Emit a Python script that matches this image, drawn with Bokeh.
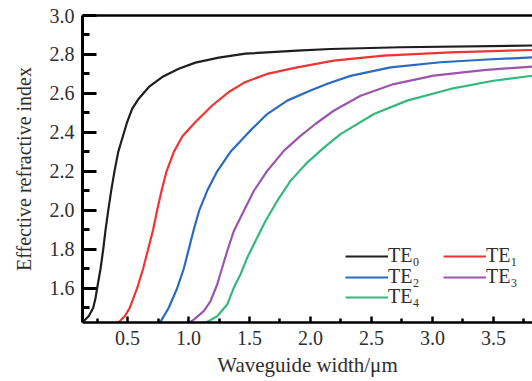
from bokeh.plotting import figure
from bokeh.models import (Range1d, FixedTicker, Legend, LegendItem, LinearAxis,
                          CustomJSTickFormatter)
from bokeh.embed import file_html
from bokeh.resources import INLINE

# Effective index of the TE modes versus waveguide width (µm)
te0_x = [0.13, 0.183, 0.219, 0.238, 0.251, 0.279, 0.301, 0.320, 0.342, 0.366, 0.393, 0.424,
         0.456, 0.497, 0.538, 0.592, 0.675, 0.784, 0.92, 1.057, 1.248, 1.467, 1.891, 2.164,
         2.738, 3.82]
te0_y = [1.424, 1.457, 1.50, 1.55, 1.60, 1.70, 1.80, 1.90, 2.00, 2.10, 2.20, 2.30,
         2.367, 2.453, 2.521, 2.573, 2.633, 2.684, 2.727, 2.758, 2.784, 2.804, 2.82, 2.828,
         2.837, 2.846]

te1_x = [0.41, 0.43, 0.478, 0.519, 0.579, 0.628, 0.669, 0.71, 0.743, 0.779, 0.820, 0.880,
         0.95, 1.057, 1.194, 1.33, 1.467, 1.645, 1.891, 2.19, 2.60, 3.147, 3.82]
te1_y = [1.424, 1.427, 1.457, 1.50, 1.60, 1.70, 1.80, 1.90, 2.00, 2.10, 2.20, 2.30,
         2.38, 2.453, 2.538, 2.607, 2.659, 2.70, 2.734, 2.768, 2.794, 2.811, 2.823]

te2_x = [0.74, 0.77, 0.838, 0.907, 0.961, 1.002, 1.043, 1.088, 1.153, 1.235, 1.344, 1.50,
         1.645, 1.809, 2.0, 2.15, 2.328, 2.656, 3.066, 3.448, 3.82]
te2_y = [1.424, 1.427, 1.50, 1.60, 1.70, 1.80, 1.90, 2.00, 2.10, 2.20, 2.30, 2.405,
         2.494, 2.563, 2.615, 2.652, 2.69, 2.734, 2.76, 2.774, 2.785]

te3_x = [0.98, 1.016, 1.043, 1.125, 1.18, 1.235, 1.276, 1.317, 1.371, 1.453, 1.535, 1.645,
         1.781, 1.918, 2.04, 2.19, 2.41, 2.683, 3.01, 3.42, 3.82]
te3_y = [1.424, 1.427, 1.439, 1.482, 1.533, 1.619, 1.705, 1.79, 1.893, 1.996, 2.099, 2.202,
         2.305, 2.382, 2.443, 2.511, 2.588, 2.648, 2.691, 2.72, 2.738]

te4_x = [1.12, 1.153, 1.235, 1.317, 1.371, 1.426, 1.481, 1.549, 1.631, 1.727, 1.836, 1.973,
         2.11, 2.246, 2.52, 2.792, 3.147, 3.50, 3.82]
te4_y = [1.424, 1.427, 1.456, 1.516, 1.602, 1.671, 1.756, 1.842, 1.945, 2.048, 2.151, 2.245,
         2.322, 2.391, 2.494, 2.563, 2.623, 2.665, 2.691]

mode_labels = ["TE\u2080", "TE\u2081", "TE\u2082", "TE\u2083", "TE\u2084"]
mode_colors = ["#1e1e1e", "#ef3434", "#2a6bc2", "#9c55ad", "#35b87c"]

x_ticks = [0.5, 1.0, 1.5, 2.0, 2.5, 3.0, 3.5]
x_minor = [0.25, 0.75, 1.25, 1.75, 2.25, 2.75, 3.25, 3.75]
y_ticks = [1.6, 1.8, 2.0, 2.2, 2.4, 2.6, 2.8, 3.0]
y_minor = [1.5, 1.7, 1.9, 2.1, 2.3, 2.5, 2.7, 2.9]

FONT = "'Liberation Serif', 'Times New Roman', 'DejaVu Serif', serif"
TXT = "#2e2e2e"

p = figure(frame_width=450, frame_height=307, output_backend="svg", toolbar_location=None,
           x_range=Range1d(0.131, 3.82), y_range=Range1d(1.424, 3.0),
           min_border_left=82, min_border_right=0, min_border_top=15, min_border_bottom=59,
           x_axis_label="Waveguide width/\u03bcm", y_axis_label="Effective refractive index")
p.title.visible = False
p.grid.visible = False
p.outline_line_color = None
p.background_fill_color = "white"
p.border_fill_color = "white"

series = [(te0_x, te0_y), (te1_x, te1_y), (te2_x, te2_y), (te3_x, te3_y), (te4_x, te4_y)]
renderers = []
for (xs, ys), c in zip(series, mode_colors):
    renderers.append(p.line(xs, ys, line_color=c, line_width=2.2, line_join="round"))

# bottom axis: short inward ticks
xa = p.xaxis[0]
xa.ticker = FixedTicker(ticks=x_ticks, minor_ticks=x_minor)
xa.axis_line_width = 2.5
xa.major_tick_in = 6
xa.major_tick_out = 0
xa.minor_tick_in = 4
xa.minor_tick_out = 0
xa.major_tick_line_width = 2.5
xa.minor_tick_line_width = 2.5
xa.major_label_standoff = 8
xa.axis_label_standoff = 5
xa.axis_label_text_font_size = "21px"

# left axis: long inward ticks
ya = p.yaxis[0]
ya.ticker = FixedTicker(ticks=y_ticks, minor_ticks=y_minor)
ya.axis_line_width = 3
ya.major_tick_in = 14
ya.major_tick_out = 0
ya.minor_tick_in = 7
ya.minor_tick_out = 0
ya.major_tick_line_width = 3
ya.minor_tick_line_width = 3
ya.major_label_standoff = 8
ya.axis_label_standoff = 12
ya.axis_label_text_font_size = "20px"

for ax in (xa, ya):
    ax.formatter = CustomJSTickFormatter(code="return tick.toFixed(1);")
    ax.major_label_text_font = FONT
    ax.major_label_text_font_size = "20px"
    ax.major_label_text_color = TXT
    ax.axis_label_text_font = FONT
    ax.axis_label_text_font_style = "normal"
    ax.axis_label_text_color = TXT
    ax.axis_line_color = "black"
    ax.major_tick_line_color = "black"
    ax.minor_tick_line_color = "black"

# top frame line
top = LinearAxis(ticker=FixedTicker(ticks=[]), axis_line_width=2.5, axis_line_color="black",
                 major_label_text_font_size="0px", major_tick_in=0, major_tick_out=0,
                 minor_tick_in=0, minor_tick_out=0, major_label_standoff=0)
p.add_layout(top, "above")

# legend: two columns, one entry per Legend so rows can sit tightly together
legend_slots = {0: (263, 55), 2: (263, 34), 4: (263, 14), 1: (361, 55), 3: (361, 34)}
for i, loc in legend_slots.items():
    p.add_layout(Legend(items=[LegendItem(label=mode_labels[i], renderers=[renderers[i]])],
                        location=loc, glyph_width=43, glyph_height=20, label_height=20,
                        label_width=20, spacing=0, padding=0, margin=0, label_standoff=0,
                        border_line_color=None, background_fill_alpha=0,
                        label_text_font=FONT, label_text_font_size="20px",
                        label_text_color=TXT))

open("out.html", "w").write(file_html(p, INLINE))
